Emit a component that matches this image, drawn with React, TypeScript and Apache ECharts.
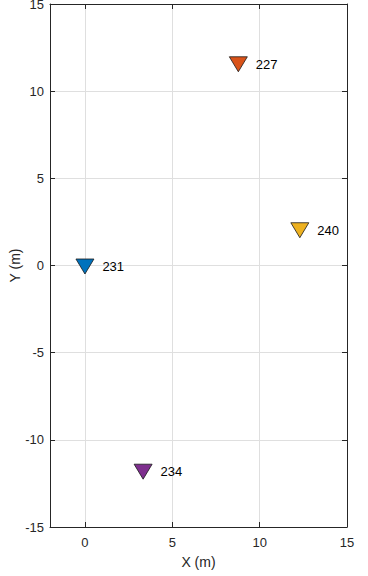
import React, { useEffect, useRef } from "react";
import * as echarts from "echarts";

const stationNames = ["231", "227", "240", "234"];
const xValues = [0, 8.78, 12.3, 3.33];
const yValues = [0, 11.6, 2.08, -11.77];
const stationColors = ["#0072BD", "#D95319", "#EDB120", "#7E2F8E"];
const xTicks = [0, 5, 10, 15];
const yTicks = [-15, -10, -5, 0, 5, 10, 15];

const FONT = "'Liberation Sans', Arial, sans-serif";
const AXIS_COLOR = "#262626";

export default function App() {
  const ref = useRef<HTMLDivElement>(null);
  useEffect(() => {
    if (!ref.current) return;
    const chart = echarts.init(ref.current, null, { renderer: "svg" });
    const baseX = {
      type: "value" as const,
      min: -2,
      max: 15,
      splitNumber: 3,
    };
    const baseY = {
      type: "value" as const,
      min: -15,
      max: 15,
      interval: 5,
    };
    chart.setOption({
      animation: false,
      backgroundColor: "#ffffff",
      grid: { left: 50, right: 21, top: 4, bottom: 49, containLabel: false, outerBoundsMode: "none" },
      xAxis: [
        {
          ...baseX,
          position: "bottom",
          name: "X (m)",
          nameLocation: "middle",
          nameGap: 28,
          nameMoveOverlap: false,
          nameTextStyle: { fontFamily: FONT, fontSize: 14, color: AXIS_COLOR },
          axisLine: { show: true, onZero: false, lineStyle: { color: AXIS_COLOR, width: 1 } },
          axisTick: { show: true, inside: true, length: 5, customValues: xTicks, lineStyle: { color: AXIS_COLOR } },
          axisLabel: { customValues: xTicks, fontFamily: FONT, fontSize: 13, color: AXIS_COLOR, margin: 9 },
          splitLine: { show: true, lineStyle: { color: "#dfdfdf", width: 1 } },
        },
        {
          ...baseX,
          position: "top",
          axisLine: { show: true, onZero: false, lineStyle: { color: AXIS_COLOR, width: 1 } },
          axisTick: { show: true, inside: true, length: 5, customValues: xTicks, lineStyle: { color: AXIS_COLOR } },
          axisLabel: { show: false },
          splitLine: { show: false },
        },
      ],
      yAxis: [
        {
          ...baseY,
          position: "left",
          name: "Y (m)",
          nameLocation: "middle",
          nameGap: 28,
          nameMoveOverlap: false,
          nameTextStyle: { fontFamily: FONT, fontSize: 14, color: AXIS_COLOR },
          axisLine: { show: true, onZero: false, lineStyle: { color: AXIS_COLOR, width: 1 } },
          axisTick: { show: true, inside: true, length: 5, customValues: yTicks, lineStyle: { color: AXIS_COLOR } },
          axisLabel: { customValues: yTicks, fontFamily: FONT, fontSize: 13, color: AXIS_COLOR, margin: 6 },
          splitLine: { show: true, lineStyle: { color: "#dfdfdf", width: 1 } },
        },
        {
          ...baseY,
          position: "right",
          axisLine: { show: true, onZero: false, lineStyle: { color: AXIS_COLOR, width: 1 } },
          axisTick: { show: true, inside: true, length: 5, customValues: yTicks, lineStyle: { color: AXIS_COLOR } },
          axisLabel: { show: false },
          splitLine: { show: false },
        },
      ],
      series: [
        {
          type: "scatter",
          xAxisIndex: 0,
          yAxisIndex: 0,
          symbol: "triangle",
          symbolRotate: 180,
          symbolSize: [18, 15],
          symbolOffset: [0, 1],
          data: stationNames.map((n, i) => ({
            name: n,
            value: [xValues[i], yValues[i]],
            itemStyle: { color: stationColors[i], borderColor: "#1a1a1a", borderWidth: 0.8, opacity: 1 },
          })),
          label: {
            show: true,
            position: "right",
            distance: 8,
            formatter: (p: any) => p.name,
            fontFamily: FONT,
            fontSize: 13,
            color: "#000000",
          },
        },
      ],
    });
    return () => chart.dispose();
  }, []);
  return (
    <div
      ref={ref}
      style={{ position: "fixed", left: 0, top: 0, width: 368, height: 576, background: "#fff" }}
    />
  );
}
